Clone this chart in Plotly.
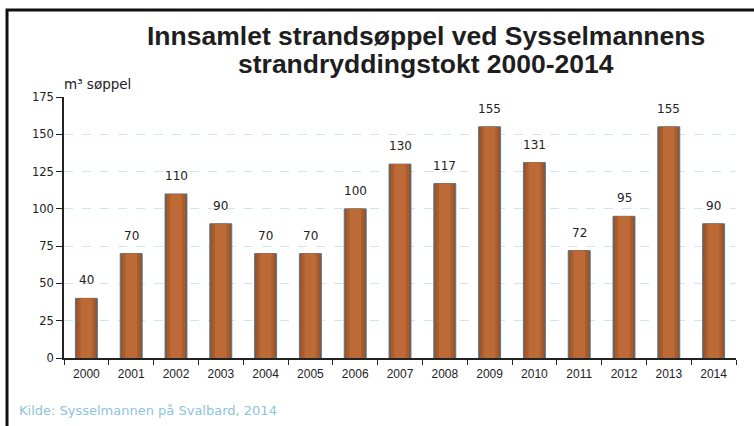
import plotly.graph_objects as go

years = ["2000", "2001", "2002", "2003", "2004", "2005", "2006", "2007",
         "2008", "2009", "2010", "2011", "2012", "2013", "2014"]
values = [40, 70, 110, 90, 70, 70, 100, 130, 117, 155, 131, 72, 95, 155, 90]
y_ticks = [0, 25, 50, 75, 100, 125, 150, 175]

title_line1 = "Innsamlet strandsøppel ved Sysselmannens"
title_line2 = "strandryddingstokt 2000-2014"
y_label = "m³ søppel"
source_text = "Kilde: Sysselmannen på Svalbard, 2014"

fig = go.Figure()
# layered bars to imitate the shaded (darker edges, lighter centre) bars
for w, col, line in [(0.49, "#96502a", dict(color="#4f7c94", width=1)),
                     (0.40, "#a95c2d", dict(width=0)),
                     (0.26, "#bd6b36", dict(width=0))]:
    fig.add_trace(go.Bar(
        x=years, y=values, width=w,
        marker=dict(color=col, line=line),
        hoverinfo="skip",
    ))

annotations = []
for i, v in enumerate(values):
    annotations.append(dict(
        x=i, y=v, xref="x", yref="y", text=str(v), showarrow=False,
        yanchor="bottom", yshift=9,
        font=dict(family="DejaVu Sans", size=12, color="#222222"),
    ))

annotations += [
    dict(text=title_line1, xref="paper", yref="paper", x=0.539, y=1.233,
         xanchor="center", yanchor="middle", showarrow=False,
         font=dict(family="Liberation Sans, Arial", size=26.5, color="#1e1e1e", weight="bold")),
    dict(text=title_line2, xref="paper", yref="paper", x=0.539, y=1.126,
         xanchor="center", yanchor="middle", showarrow=False,
         font=dict(family="Liberation Sans, Arial", size=26.5, color="#1e1e1e", weight="bold")),
    dict(text=y_label, xref="paper", yref="paper", x=-0.003, y=1.05,
         xanchor="left", yanchor="middle", showarrow=False,
         font=dict(family="DejaVu Sans", size=13.5, color="#222222")),
    dict(text=source_text, xref="paper", yref="paper", x=-0.07, y=-0.203,
         xanchor="left", yanchor="middle", showarrow=False,
         font=dict(family="DejaVu Sans", size=13, color="#8cc4da")),
]

fig.update_layout(
    width=754, height=426,
    margin=dict(l=64, r=18, t=97, b=68),
    paper_bgcolor="white", plot_bgcolor="white",
    barmode="overlay",
    showlegend=False,
    font=dict(family="DejaVu Sans", color="#222222"),
    xaxis=dict(
        type="category", range=[-0.5, len(years) - 0.5],
        showline=True, linecolor="#222222", linewidth=1.5,
        ticks="outside", tickson="boundaries", ticklen=5, tickcolor="#222222",
        ticklabelstandoff=4,
        tickfont=dict(family="Liberation Sans, Arial", size=12, color="#222222"),
        showgrid=False,
    ),
    yaxis=dict(
        range=[0, 175], tickvals=y_ticks,
        showline=True, linecolor="#222222", linewidth=1.5,
        ticks="outside", ticklen=6, tickcolor="#222222",
        tickfont=dict(family="DejaVu Sans", size=11.5, color="#222222"),
        showgrid=True, gridcolor="#cfe6f2", gridwidth=1, griddash="dash",
        zeroline=False,
    ),
    shapes=[dict(type="rect", xref="paper", yref="paper",
                 x0=-0.0848, x1=1.036, y0=-0.314, y1=1.333,
                 line=dict(color="#111111", width=3))],
    annotations=annotations,
)

fig.write_html("out.html", config={"displayModeBar": False},
               post_script="document.body.style.margin='0';")
